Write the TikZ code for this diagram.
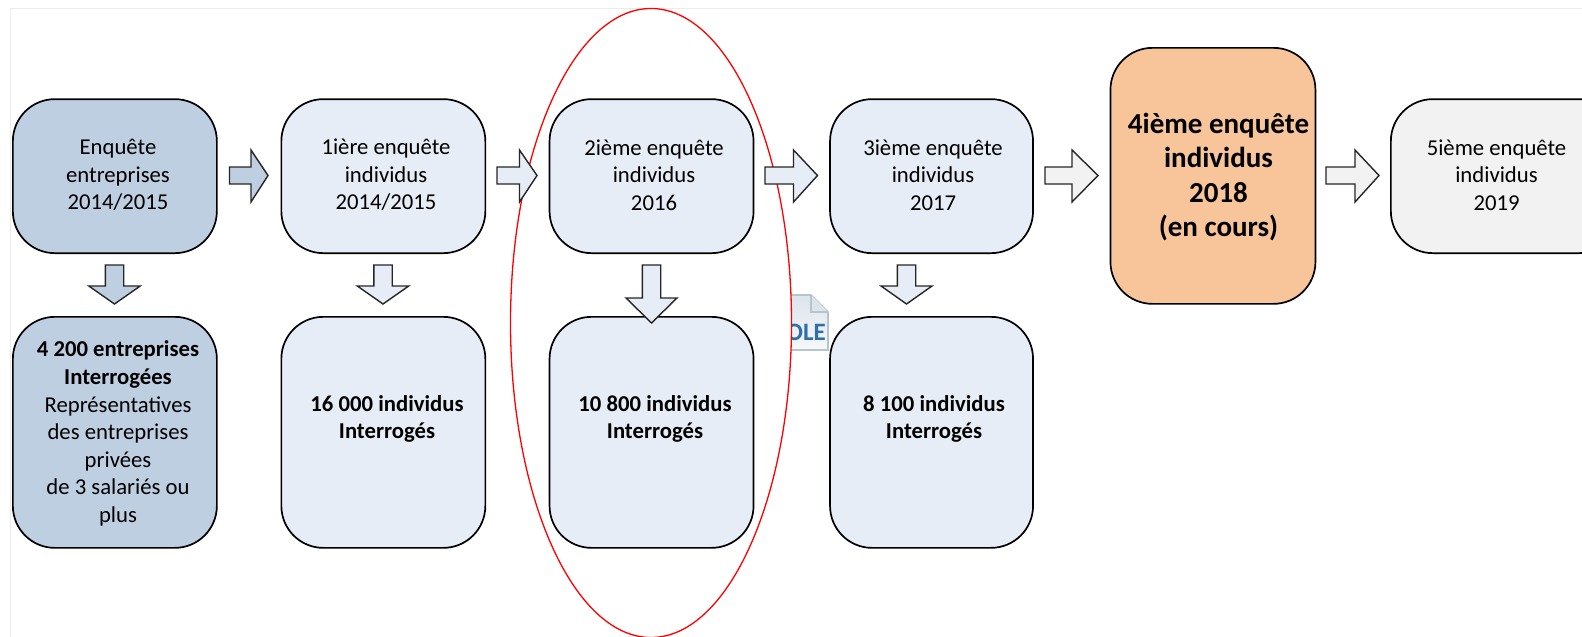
\documentclass[tikz,border=0pt]{standalone}
\usepackage{fontspec}
\setmainfont{Carlito}
\definecolor{bdark}{HTML}{BFCFE2}
\definecolor{blight}{HTML}{E7EDF6}
\definecolor{bgrey}{HTML}{F2F2F2}
\definecolor{borange}{HTML}{F8C49A}
\definecolor{oleblue}{HTML}{2F6FA8}
\definecolor{oletop}{HTML}{DCE4EC}
\definecolor{olebot}{HTML}{F6F8FA}
\definecolor{oleedge}{HTML}{B8C4CC}
\tikzset{x=1pt,y=-1pt,
  box/.style={draw=black,line width=1.7pt,rounded corners=42pt,inner sep=0pt,anchor=north west},
  lab/.style={align=center,inner sep=0pt,font=\fontsize{22.7}{27.6}\selectfont},
  labb/.style={lab,font=\fontsize{22.7}{27.6}\selectfont\bfseries},
  blockarrow/.style={draw=black!85,line width=1.4pt,line join=miter}}
% right arrow: x0, shaft end, tip, colour
\newcommand{\rarrow}[4]{\draw[blockarrow,fill=#4] (#1,167)--(#2,167)--(#2,150)--(#3,175.5)--(#2,202)--(#2,184)--(#1,184)--cycle;}
% down arrow: centre x, half-head, shaft bottom, tip, colour
\newcommand{\darrow}[5]{\draw[blockarrow,fill=#5] (#1-9.2,265)--(#1+9.2,265)--(#1+9.2,#3)--(#1+#2,#3)--(#1,#4)--(#1-#2,#3)--(#1-9.2,#3)--cycle;}
\begin{document}
\begin{tikzpicture}
\useasboundingbox (0,0) rectangle (1582,637);
\fill[white] (0,0) rectangle (1582,637);
\draw[black!8,line width=.7pt] (10,637)--(10,8)--(1582,8);
% OLE icon
\begin{scope}
\clip (791,280) rectangle (835,360);
\shade[top color=oletop,bottom color=olebot] (775,295)--(811,295)--(828,312)--(828,350)--(775,350)--cycle;
\draw[oleedge,line width=1.6pt] (775,295)--(811,295)--(828,312)--(828,350)--(775,350);
\fill[oletop] (811,295)--(828,312)--(811,312)--cycle;
\draw[oleedge,line width=1.2pt] (811,295)--(811,312)--(828,312);
\node[text=oleblue,font=\fontsize{25}{25}\selectfont\bfseries,anchor=base east,inner sep=0pt] (ole) at (826,340) {OLE};
\end{scope}
% ellipse
\draw[red,line width=1.3pt] (651,323) ellipse [x radius=140.5pt,y radius=314.5pt];
% boxes
\node[box,fill=bdark,minimum width=204pt,minimum height=154pt] (a1) at (12,98.3) {};
\node[box,fill=blight,minimum width=204pt,minimum height=154pt] (a2) at (280.5,98.3) {};
\node[box,fill=blight,minimum width=204pt,minimum height=154pt] (a3) at (548.7,98.3) {};
\node[box,fill=blight,minimum width=203pt,minimum height=154pt] (a4) at (829.2,98.3) {};
\node[box,fill=borange,minimum width=205pt,minimum height=256pt] (a5) at (1109.6,47) {};
\node[box,fill=bgrey,minimum width=230pt,minimum height=154pt] (a6) at (1390,98.3) {};
\node[box,fill=bdark,minimum width=204pt,minimum height=231pt] (b1) at (12,316) {};
\node[box,fill=blight,minimum width=204pt,minimum height=231pt] (b2) at (280.5,316) {};
\node[box,fill=blight,minimum width=204pt,minimum height=231pt] (b3) at (548.7,316) {};
\node[box,fill=blight,minimum width=203pt,minimum height=231pt] (b4) at (829.2,316) {};
% texts
\node[lab] (t1) at (118,175) {Enquête\\entreprises\\2014/2015};
\node[lab] (t2) at (386,175) {1ière enquête\\individus\\2014/2015};
\node[lab] (t3) at (654,175) {2ième enquête\\individus\\2016};
\node[lab] (t4) at (933,175) {3ième enquête\\individus\\2017};
\node[lab,font=\fontsize{29}{34.6}\selectfont\bfseries] (t5) at (1218.5,177) {4ième enquête\\individus\\2018\\(en cours)};
\node[lab] (t6) at (1496.5,175) {5ième enquête\\individus\\2019};
\node[lab] (u1) at (118,433.5) {\textbf{4 200 entreprises}\\\textbf{Interrogées}\\Représentatives\\des entreprises\\privées\\de 3 salariés ou\\plus};
\node[labb] (u2) at (387,419) {16 000 individus\\Interrogés};
\node[labb] (u3) at (655,419) {10 800 individus\\Interrogés};
\node[labb] (u4) at (934,419) {8 100 individus\\Interrogés};
% block arrows
\rarrow{229.5}{251}{268}{bdark}
\rarrow{497}{519.5}{537}{blight}
\rarrow{765}{793.5}{817.5}{blight}
\rarrow{1045}{1072}{1098}{bgrey}
\rarrow{1326}{1355}{1379}{bgrey}
\darrow{114.5}{25.7}{286}{304}{bdark}
\darrow{383}{25.7}{286}{304}{blight}
\darrow{651.5}{25.5}{298}{323}{blight}
\darrow{906.5}{25.5}{286}{304}{blight}
\end{tikzpicture}
\end{document}
